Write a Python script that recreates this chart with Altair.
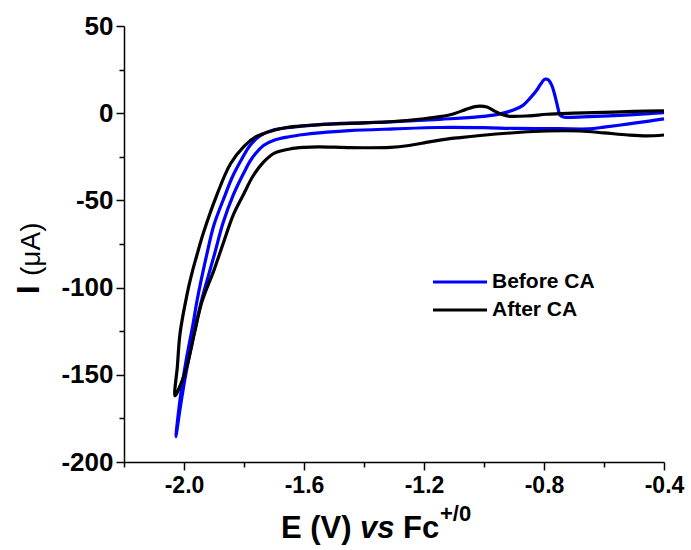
import altair as alt
import pandas as pd

# ---- data (E in V vs Fc+/0, I in uA) ----
before_fwd_x = [-0.40, -0.45, -0.50, -0.55, -0.60, -0.65, -0.75, -0.90, -1.00, -1.15, -1.30, -1.45,
                -1.55, -1.60, -1.65, -1.70, -1.735, -1.774, -1.80, -1.836, -1.87, -1.897, -1.92,
                -1.941, -1.965, -1.99, -2.01, -2.027]
before_fwd_y = [-3.3, -4.5, -5.7, -6.9, -8.0, -9.0, -8.9, -8.7, -8.3, -8.2, -9.0, -10.0,
                -11.3, -12.2, -13.5, -15.5, -18.5, -26, -34, -47, -63, -80, -94,
                -107, -125, -146, -166, -185.5]
before_ret_x = [-2.01, -1.99, -1.97, -1.956, -1.924, -1.90, -1.863, -1.84, -1.813, -1.78, -1.747,
                -1.70, -1.636, -1.55, -1.40, -1.313, -1.147, -1.013, -0.95, -0.902, -0.87, -0.847,
                -0.825, -0.813, -0.80, -0.794, -0.785, -0.774, -0.765, -0.76, -0.753, -0.747,
                -0.735, -0.724, -0.65, -0.55, -0.45, -0.40]
before_ret_y = [-160, -139, -121, -107, -81, -64, -47, -37, -28, -18.5, -13,
                -9.5, -8.0, -6.5, -5.5, -5.0, -3.5, -2.0, -0.5, 1.8, 4.5, 8.5,
                13, 16.2, 19.2, 19.6, 19.0, 16.0, 11.0, 7.6, 2.5, -1.0,
                -2.2, -2.4, -2.0, -1.2, -0.3, 0.3]

after_fwd_x = [-0.40, -0.458, -0.52, -0.60, -0.68, -0.79, -0.90, -1.013, -1.08, -1.147, -1.20, -1.25,
               -1.313, -1.40, -1.50, -1.55, -1.60, -1.647, -1.70, -1.735, -1.77, -1.80, -1.835,
               -1.87, -1.90, -1.94, -1.965, -1.99, -2.01, -2.03]
after_fwd_y = [-12.5, -13.0, -12.5, -11.3, -10.2, -10.2, -11.2, -12.8, -14.0, -15.4, -17.0, -18.5,
               -19.6, -19.8, -19.5, -19.3, -19.6, -20.5, -23, -28, -36, -46, -58,
               -75, -90, -108, -126, -145, -155, -162]
after_ret_x = [-2.022, -2.013, -1.99, -1.974, -1.958, -1.936, -1.892, -1.845, -1.80, -1.76, -1.70,
               -1.658, -1.60, -1.50, -1.40, -1.313, -1.20, -1.147, -1.10, -1.06, -1.03, -1.013,
               -0.99, -0.965, -0.94, -0.913, -0.85, -0.79, -0.70, -0.60, -0.50, -0.40]
after_ret_y = [-145, -126, -104, -92, -82, -69, -47.5, -29, -19, -13.5, -9.8,
               -8.2, -7.2, -6.2, -5.5, -4.9, -3.2, -2.0, -0.3, 2.2, 3.8, 4.1,
               3.5, 1.2, -0.8, -1.8, -1.5, -0.6, 0.0, 0.5, 1.0, 1.3]

series_names = ["Before CA", "After CA"]
series_colors = ["#0000FF", "#000000"]

x_major = [-2.0, -1.6, -1.2, -0.8, -0.4]
x_minor = [-2.2, -1.8, -1.4, -1.0, -0.6]
y_major = [50, 0, -50, -100, -150, -200]
y_minor = [25, -25, -75, -125, -175]

# ---- build table ----
rows = []
for name, xs, ys in [("Before CA", before_fwd_x + before_ret_x, before_fwd_y + before_ret_y),
                     ("After CA", after_fwd_x + after_ret_x, after_fwd_y + after_ret_y)]:
    for i, (xv, yv) in enumerate(zip(xs, ys)):
        rows.append({"series": name, "E": xv, "I": yv, "idx": i})
df = pd.DataFrame(rows)

FONT = "Liberation Sans"

x_axis = alt.Axis(
    values=sorted(x_major + x_minor), title=None, grid=False,
    labelExpr="abs(round(datum.value*10)) % 4 == 0 ? ((datum.value < 0 ? '-' : '') + format(abs(datum.value), '.1f')) : ''",
    labelFont=FONT, labelFontSize=23, labelFontWeight="bold", labelColor="black",
    labelPadding=4, labelOverlap=False, labelFlush=False,
    domainColor="black", domainWidth=1.5, tickColor="black", tickWidth=1.5,
    tickSize={"condition": {"test": "abs(round(datum.value*10)) % 4 != 0", "value": 5}, "value": 8},
)
y_axis = alt.Axis(
    values=sorted(y_major + y_minor), title=None, grid=False,
    labelExpr="datum.value % 50 == 0 ? ((datum.value < 0 ? '-' : '') + format(abs(datum.value), 'd')) : ''",
    labelFont=FONT, labelFontSize=26, labelFontWeight="bold", labelColor="black",
    labelPadding=3, labelOverlap=False, labelFlush=False,
    domainColor="black", domainWidth=1.5, tickColor="black", tickWidth=1.5,
    tickSize={"condition": {"test": "datum.value % 50 != 0", "value": 5}, "value": 8},
)

lines = alt.Chart(df).mark_line(strokeWidth=3.2, interpolate="catmull-rom", clip=False).encode(
    x=alt.X("E:Q", scale=alt.Scale(domain=[-2.2, -0.4], nice=False, zero=False), axis=x_axis),
    y=alt.Y("I:Q", scale=alt.Scale(domain=[-200, 50], nice=False, zero=False), axis=y_axis),
    color=alt.Color("series:N", scale=alt.Scale(domain=series_names, range=series_colors), legend=None),
    order="idx:Q",
    detail="series:N",
)


def txt(s, x, y, size, weight="bold", style="normal", angle=0, align="left", baseline="alphabetic"):
    kw = dict(font=FONT, fontSize=size, fontWeight=weight, fontStyle=style, align=align,
              baseline=baseline, color="black")
    if angle:
        kw["angle"] = angle
    return alt.Chart(pd.DataFrame({"t": [s]})).mark_text(**kw).encode(
        text="t:N", x=alt.value(x), y=alt.value(y))


def legend_rule(color, y):
    return alt.Chart(pd.DataFrame({"k": [0]})).mark_rule(color=color, strokeWidth=3).encode(
        x=alt.value(309), x2=alt.value(363), y=alt.value(y))


layers = [lines]
# x axis title: E (V) vs Fc+/0
layers += [
    txt("E (V)", 157, 512, 31),
    txt("vs", 236, 512, 31, style="italic"),
    txt("Fc", 279, 512, 31),
    txt("+/0", 316, 495, 22),
]
# y axis title: I (μA)
layers += [
    txt("I", -94, 268, 31, angle=270, baseline="middle"),
    txt("(μA)", -92, 250, 28, weight="normal", angle=270, baseline="middle"),
]
# legend
layers += [
    legend_rule(series_colors[0], 256),
    legend_rule(series_colors[1], 284),
    txt(series_names[0], 368, 256, 21, baseline="middle"),
    txt(series_names[1], 368, 284, 21, baseline="middle"),
]

chart = alt.layer(*layers).properties(
    width=540, height=436,
    padding={"left": 124, "top": 26, "right": 27, "bottom": 88},
    autosize="none",
    background="white",
).configure_view(stroke=None)

chart.save("out.html", embed_options={"renderer": "svg", "actions": False})
